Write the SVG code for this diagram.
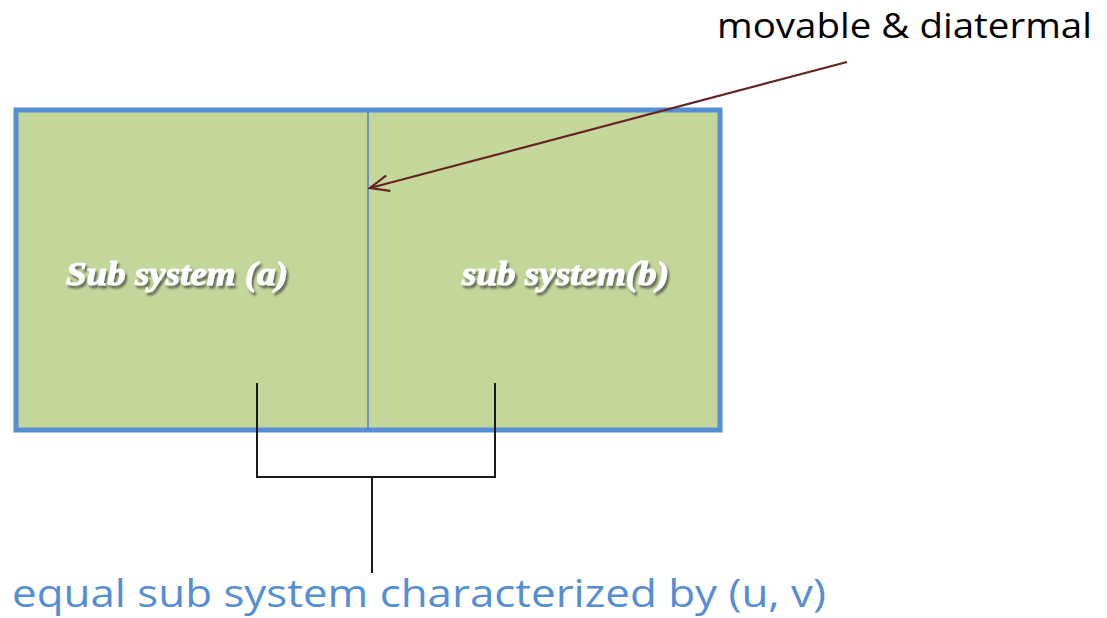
<svg xmlns="http://www.w3.org/2000/svg" width="1107" height="618" viewBox="0 0 1107 618">
<style>
.lbl{font-family:"Liberation Serif",serif;font-weight:bold;font-style:italic;font-size:34px;fill:#ffffff;stroke:#ffffff;stroke-width:1;filter:url(#shadow)}
.conn{fill:none;stroke:#1a1a1a;stroke-width:2}
</style>
<defs>
<filter id="shadow" x="-10%" y="-30%" width="120%" height="160%">
<feDropShadow dx="2" dy="3" stdDeviation="1.2" flood-color="#3a3a3a" flood-opacity="0.7"/>
</filter>
<marker id="open" markerWidth="22" markerHeight="18" refX="20" refY="9" orient="auto" markerUnits="userSpaceOnUse">
<path d="M1,1 L20,9 L1,17" fill="none" stroke="#632423" stroke-width="2.2"/>
</marker>
</defs>
<rect width="1107" height="618" fill="#ffffff"/>
<g id="box">
<rect x="16" y="110" width="704" height="320" fill="#c4d79b" stroke="#558ed5" stroke-width="5"/>
<line x1="368" y1="110" x2="368" y2="430" stroke="#4f81bd" stroke-width="1.5"/>
</g>
<g id="subA">
<text class="lbl" x="66" y="285" textLength="222" lengthAdjust="spacingAndGlyphs">Sub system (a)</text>
</g>
<g id="subB">
<text class="lbl" x="462" y="285" textLength="207" lengthAdjust="spacingAndGlyphs">sub system(b)</text>
</g>
<g id="wallLabel">
<text x="717" y="38" font-family="Open Sans, Liberation Sans, sans-serif" font-size="34" fill="#000000" textLength="375" lengthAdjust="spacingAndGlyphs">movable &amp; diatermal</text>
</g>
<g id="bottomLabel">
<text x="12" y="607" font-family="Open Sans, Liberation Sans, sans-serif" font-size="38" fill="#558ed5" textLength="814" lengthAdjust="spacingAndGlyphs">equal sub system characterized by (u, v)</text>
</g>
<g id="connectors">
<line x1="847" y1="62" x2="370" y2="188" stroke="#632423" stroke-width="2.2" marker-end="url(#open)"/>
<path class="conn" d="M257,383 V477 H495 V383"/>
<line class="conn" x1="372" y1="477" x2="372" y2="573"/>
</g>
</svg>
